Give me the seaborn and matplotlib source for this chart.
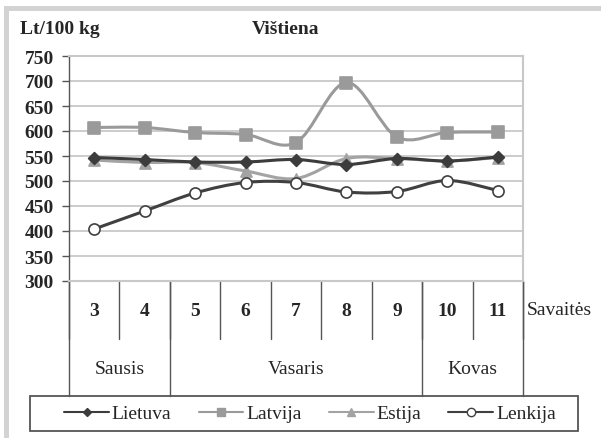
import numpy as np
import pandas as pd
import matplotlib
matplotlib.use("Agg")
import matplotlib.pyplot as plt
import seaborn as sns
from matplotlib.path import Path
from matplotlib.patches import PathPatch, Rectangle
from matplotlib.lines import Line2D

# duomenys
weeks = ["3", "4", "5", "6", "7", "8", "9", "10", "11"]
months = ["Sausis", "Vasaris", "Kovas"]
month_weeks = [2, 5, 2]
lietuva = [547, 543, 538, 538, 543, 533, 545, 540, 548]
latvija = [607, 607, 597, 593, 577, 697, 588, 597, 598]
estija = [542, 537, 537, 520, 505, 545, 545, 540, 547]
lenkija = [404, 440, 476, 497, 497, 478, 479, 501, 481]

sns.set_style("white")
plt.rcParams['font.family'] = ['Liberation Serif', 'DejaVu Serif']
FS = 14

df = pd.DataFrame({"x": np.arange(len(weeks)), "Lietuva": lietuva, "Latvija": latvija,
                   "Estija": estija, "Lenkija": lenkija})

fig = plt.figure(figsize=(6.01, 4.39), dpi=100)
ax = fig.add_axes([69/601, 1-282/439, 454/601, 225/439])

# remelis aplink
fig.patches.append(Rectangle((4/601, 0), 5/601, 1-9/439, transform=fig.transFigure,
                             color="#d3d3d3", lw=0))
fig.patches.append(Rectangle((4/601, 1-12/439), 1, 5/439, transform=fig.transFigure,
                             color="#d3d3d3", lw=0))


def smooth_path(xs, ys):
    # Excel tipo glotni linija (Catmull-Rom -> Bezier)
    pts = np.column_stack([xs, ys]).astype(float)
    n = len(pts)
    verts = [pts[0]]
    codes = [Path.MOVETO]
    for i in range(n - 1):
        p0 = pts[i - 1] if i > 0 else pts[i]
        p1 = pts[i]
        p2 = pts[i + 1]
        p3 = pts[i + 2] if i + 2 < n else pts[i + 1]
        c1 = p1 + (p2 - p0) / 6
        c2 = p2 - (p3 - p1) / 6
        verts += [c1, c2, p2]
        codes += [Path.CURVE4] * 3
    return Path(verts, codes)


series = [
    ("Lietuva", "#3c3c3c", "D", "#3c3c3c", 6),
    ("Latvija", "#9a9a9a", "s", "#9a9a9a", 8),
    ("Estija", "#a3a3a3", "^", "#a3a3a3", 8),
    ("Lenkija", "#404040", "o", "white", 8),
]
order = ["Latvija", "Estija", "Lietuva", "Lenkija"]
handles = []
for name, col, mk, fc, ms in series:
    z = 3 + order.index(name)
    ax.add_patch(PathPatch(smooth_path(df["x"], df[name]), fill=False, edgecolor=col,
                           lw=2.2, zorder=z))
    sns.scatterplot(data=df, x="x", y=name, marker=mk, s=ms**2, color=fc,
                    edgecolor=col, linewidth=1.2, ax=ax, zorder=z + 0.5, legend=False)
    handles.append(Line2D([0], [0], color=col, lw=1.5, marker=mk, markersize=ms*0.75,
                          markerfacecolor=fc, markeredgecolor=col))

ax.set_xlim(-0.5, len(weeks) - 0.5)
ax.set_ylim(300, 750)
ax.set_yticks(range(300, 751, 50))
ax.set_yticklabels([str(v) for v in range(300, 751, 50)], fontsize=FS, fontweight="bold")
ax.set_xticks([])
ax.set_xlabel("")
ax.set_ylabel("")
ax.grid(axis="y", color="#c8c8c8", lw=1.3)
ax.set_axisbelow(True)
ax.tick_params(axis="y", length=5, width=1, color="#555555", pad=6, left=True)
for s in ["top", "right", "bottom"]:
    ax.spines[s].set_color("#c8c8c8")
    ax.spines[s].set_linewidth(1.5)
ax.spines["left"].set_color("#555555")
ax.spines["left"].set_linewidth(1)

# kategoriju lentele po asimi
trans = ax.get_xaxis_transform()
week_bottom = (282 - 340) / 225
month_bottom = (282 - 397) / 225
for i in range(len(weeks) + 1):
    ax.plot([i - 0.5, i - 0.5], [0, week_bottom], transform=trans, color="#555555",
            lw=1, clip_on=False)
for i, w in enumerate(weeks):
    ax.text(i, (282 - 311) / 225, w, transform=trans, ha="center", va="center",
            fontsize=FS, fontweight="bold")
start = -0.5
for m, k in zip(months, month_weeks):
    ax.plot([start, start], [0, month_bottom], transform=trans, color="#555555",
            lw=1, clip_on=False)
    ax.text(start + k / 2, (282 - 370) / 225, m, transform=trans, ha="center",
            va="center", fontsize=FS)
    start += k
ax.plot([start, start], [0, month_bottom], transform=trans, color="#555555",
        lw=1, clip_on=False)

fig.text(527/601, 1 - 311/439, "Savaitės", ha="left", va="center", fontsize=FS)
fig.text(20/601, 1 - 30/439, "Lt/100 kg", ha="left", va="center", fontsize=FS,
         fontweight="bold")
fig.text(286/601, 1 - 30/439, "Vištiena", ha="center", va="center", fontsize=FS,
         fontweight="bold")

# legendos remelis
fig.patches.append(Rectangle((30/601, 1 - 432/439), 548/601, 35/439,
                             transform=fig.transFigure, fill=False,
                             edgecolor="#555555", lw=1.3))
leg = fig.legend(handles, [s[0] for s in series], loc="center", ncol=4,
                 bbox_to_anchor=(310/601, 1 - 414.5/439), fontsize=FS,
                 frameon=False, handlelength=2.3, handletextpad=0.15,
                 columnspacing=1.4, borderpad=0.2)

fig.savefig("out.png", dpi=100)
